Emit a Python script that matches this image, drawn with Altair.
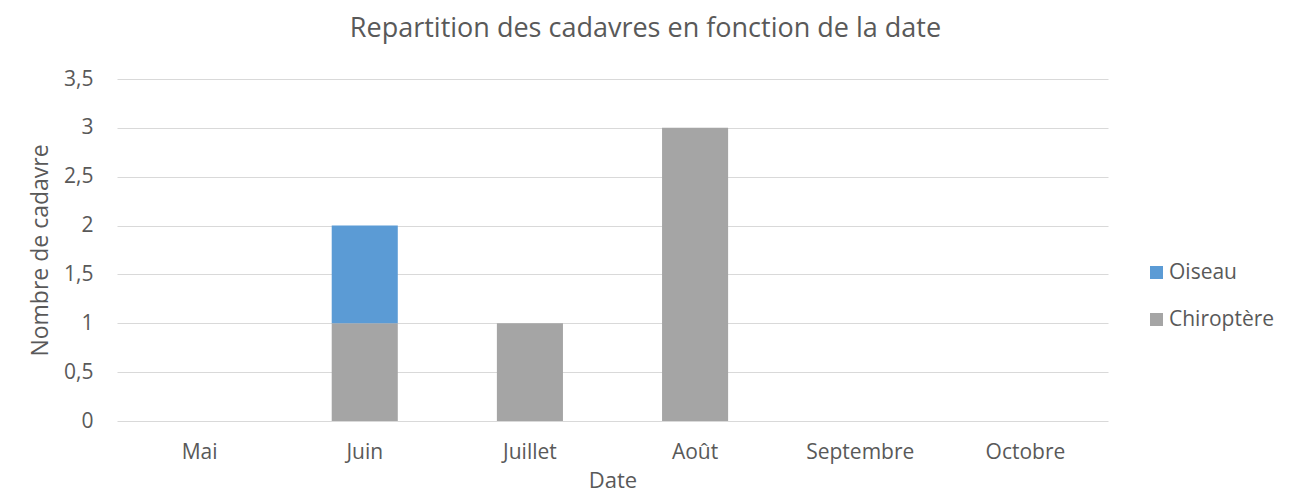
import altair as alt
import pandas as pd

months = ["Mai", "Juin", "Juillet", "Août", "Septembre", "Octobre"]
chiroptere = [0, 1, 1, 3, 0, 0]
oiseau = [0, 1, 0, 0, 0, 0]
series = ["Oiseau", "Chiroptère"]
colors = ["#5B9BD5", "#A5A5A5"]

rows = []
for m, c, o in zip(months, chiroptere, oiseau):
    rows.append({"Date": m, "Espèce": "Chiroptère", "Nombre": c, "ordre": 0})
    rows.append({"Date": m, "Espèce": "Oiseau", "Nombre": o, "ordre": 1})
df = pd.DataFrame(rows)

FONT = "Open Sans"
TXT = "#595959"

chart = alt.Chart(df).mark_bar().encode(
    x=alt.X("Date:N", sort=months,
            scale=alt.Scale(paddingInner=0.6, paddingOuter=0.3),
            axis=alt.Axis(title="Date", labelAngle=0, ticks=False, domain=False,
                          labelPadding=20, titlePadding=8, labelFontSize=21,
                          titleFontSize=22, labelColor=TXT, titleColor=TXT,
                          labelFont=FONT, titleFont=FONT, titleFontWeight="normal")),
    y=alt.Y("Nombre:Q", stack="zero",
            scale=alt.Scale(domain=[0, 3.5], nice=False),
            axis=alt.Axis(title="Nombre de cadavre", values=[0, 0.5, 1, 1.5, 2, 2.5, 3, 3.5],
                          labelExpr="replace(toString(datum.value), '.', ',')",
                          ticks=False, domain=False, labelPadding=24,
                          labelFontSize=21, titleFontSize=23, labelColor=TXT, titleColor=TXT,
                          labelFont=FONT, titleFont=FONT, titleFontWeight="normal",
                          gridColor="#D9D9D9", gridWidth=1,
                          titleX=-77, titleY=171, titleAngle=-90,
                          titleAlign="center", titleBaseline="middle")),
    color=alt.Color("Espèce:N",
                    scale=alt.Scale(domain=series, range=colors),
                    legend=alt.Legend(title=None, orient="none", legendX=1029, legendY=183,
                                      symbolType="square", symbolSize=169,
                                      symbolStrokeWidth=0, labelFontSize=21,
                                      labelColor=TXT, labelFont=FONT, labelOffset=2,
                                      rowPadding=25)),
    order=alt.Order("ordre:Q"),
).properties(
    width=991,
    height=342,
    padding={"left": 109, "top": 71, "right": 187, "bottom": 73},
    autosize=alt.AutoSizeParams(type="none"),
    title=alt.TitleParams("Repartition des cadavres en fonction de la date",
                          font=FONT, fontSize=27, fontWeight="normal", color=TXT,
                          anchor="middle", dx=33, offset=25),
).configure_view(stroke=None)

chart.save("out.html", embed_options={"renderer": "svg", "actions": False})
